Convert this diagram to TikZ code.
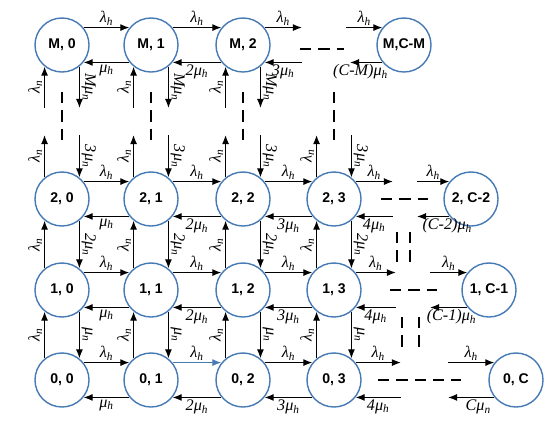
\documentclass[tikz,border=0pt]{standalone}
\usepackage{fontspec}
\setsansfont{Liberation Sans}
\newfontfamily\ratefont{Liberation Serif}
\usetikzlibrary{arrows.meta,positioning}
\definecolor{ringblue}{RGB}{70,122,180}
\newcommand\rt[2]{\textit{#1}\textsubscript{\textit{#2}}}
\tikzset{
  state/.style={circle,draw=ringblue,line width=1pt,minimum size=1.35cm,inner sep=0pt,font=\sffamily\bfseries\fontsize{10}{11}\selectfont},
  flow/.style={-{Latex[length=6.5pt,width=5pt]},line width=0.9pt},
  gap/.style={line width=0.9pt,dash pattern=on 8pt off 5pt},
  rate/.style={font=\ratefont\fontsize{11.5}{12}\selectfont,inner sep=1.2pt},
  uprate/.style={rate,rotate=90,anchor=south},
  dnrate/.style={rate,rotate=-90,anchor=south}
}
\begin{document}
\begin{tikzpicture}[x=0.025cm,y=-0.025cm]
\useasboundingbox (0,0) rectangle (558,422);
% states
\foreach \r/\y in {2/199,1/290,0/380}
  \foreach \c/\x in {0/62,1/151,2/243,3/334}
    \node[state] (N\r\c) at (\x,\y) {\r, \c};
\foreach \c/\x in {0/62,1/151,2/243}
  \node[state] (NM\c) at (\x,45) {M, \c};
\node[state] (NMe) at (404,45) {M,C-M};
\node[state] (N2e) at (471,199) {2, C-2};
\node[state] (N1e) at (489,290) {1, C-1};
\node[state] (N0e) at (516,380) {0, C};

% horizontal rates
\foreach \r in {2,1,0}
  \foreach \c/\d/\k in {0/1/{},1/2/2,2/3/3}{
    \ifnum\r\c=1 \def\ink{ringblue}\else\def\ink{black}\fi
    \draw[flow,\ink] (N\r\c.39) -- node[rate,above,black]{\rt{λ}{h}} (N\r\d.141);
    \draw[flow] (N\r\d.-141) -- node[rate,below]{\rt{\k μ}{h}} (N\r\c.-39);
  }
\foreach \c/\d/\k in {0/1/{},1/2/2}{
  \draw[flow] (NM\c.39) -- node[rate,above]{\rt{λ}{h}} (NM\d.141);
  \draw[flow] (NM\d.-141) -- node[rate,below]{\rt{\k μ}{h}} (NM\c.-39);
}

% vertical rates
\foreach \lo/\hi/\k in {0/1/{},1/2/2}
  \foreach \c in {0,1,2,3}{
    \draw[flow] (N\lo\c.129) -- node[uprate]{\rt{λ}{n}} (N\hi\c.-129);
    \draw[flow] (N\hi\c.-51) -- node[dnrate]{\rt{\k μ}{n}} (N\lo\c.51);
  }
\foreach \c in {0,1,2}{
  \coordinate (mu\c) at (NM\c.-129 |- 0,108);
  \coordinate (md\c) at (NM\c.-51 |- 0,108);
  \draw[flow] (mu\c) -- node[uprate]{\rt{λ}{n}} (NM\c.-129);
  \draw[flow] (NM\c.-51) -- node[dnrate]{\rt{Mμ}{n}} (md\c);
}
\foreach \c in {0,1,2,3}{
  \coordinate (tu\c) at (N2\c.129 |- 0,135);
  \coordinate (td\c) at (N2\c.51 |- 0,135);
  \draw[flow] (N2\c.129) -- node[uprate]{\rt{λ}{n}} (tu\c);
  \draw[flow] (td\c) -- node[dnrate]{\rt{3μ}{n}} (N2\c.51);
  \draw[gap] (N2\c.center |- 0,92) -- (N2\c.center |- 0,141);
}

% top row, right end
\coordinate (fM) at (NM2.39 -| 302,0);
\coordinate (gM) at (NM2.-39 -| 302,0);
\coordinate (hM) at (NMe.141 -| 346,0);
\coordinate (kM) at (NMe.-141 -| 350,0);
\draw[flow] (NM2.39) -- node[rate,above]{\rt{λ}{h}} (fM);
\draw[flow] (gM) -- node[rate,below]{\rt{3μ}{h}} (NM2.-39);
\draw[gap] (300,49) -- (344,49);
\draw[flow] (hM) -- node[rate,above]{\rt{λ}{h}} (NMe.141);
\draw[flow] (NMe.-141) -- node[rate,below,xshift=-4]{\rt{(C-M)μ}{h}} (kM);

% lower rows, right end
\foreach \r/\a/\p/\q/\b/\s/\t in {2/393/381/428/417/10/{(C-2)μ},
                                  1/396/390/437/430/2/{(C-1)μ},
                                  0/401/378/461/448/5/{Cμ}}{
  \coordinate (f\r) at (N\r3.39 -| \a,0);
  \coordinate (g\r) at (N\r3.-39 -| \a,0);
  \coordinate (h\r) at (N\r e.141 -| \b,0);
  \coordinate (k\r) at (N\r e.-141 -| \b,0);
  \draw[flow] (N\r3.39) -- node[rate,above]{\rt{λ}{h}} (f\r);
  \draw[flow] (g\r) -- node[rate,below]{\rt{4μ}{h}} (N\r3.-39);
  \draw[gap] (\p,0 |- N\r3) -- (\q,0 |- N\r3);
  \draw[flow] (h\r) -- node[rate,above]{\rt{λ}{h}} (N\r e.141);
  \ifnum\r=0 \def\sub{n}\else\def\sub{h}\fi
  \draw[flow] (N\r e.-141) -- node[rate,below,xshift=\s]{\rt{\t}{\sub}} (k\r);
}
\foreach \x/\y in {397/232,410/232,402/317,419/317}
  \draw[gap] (\x,\y) -- (\x,\y+31);
\end{tikzpicture}
\end{document}
